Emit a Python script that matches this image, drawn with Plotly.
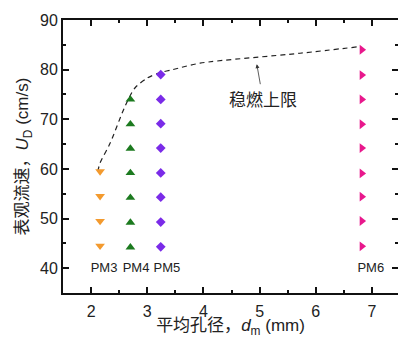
import plotly.graph_objects as go

# Data
pm3_x = [2.16] * 4
pm3_y = [44.5, 49.5, 54.5, 59.5]
pm4_x = [2.70] * 7
pm4_y = [44.2, 49.2, 54.2, 59.2, 64.1, 69.0, 74.0]
pm5_x = [3.24] * 8
pm5_y = [44.3, 49.3, 54.3, 59.2, 64.2, 69.1, 74.0, 79.0]
pm6_x = [6.82] * 9
pm6_y = [44.4, 49.5, 54.4, 59.1, 64.2, 69.0, 74.0, 78.9, 84.0]

limit_x = [2.12, 2.16, 2.34, 2.60, 2.78, 3.00, 3.20, 3.45, 3.94, 5.72, 6.75]
limit_y = [59.5, 61.2, 65.2, 72.5, 76.3, 78.3, 79.3, 80.0, 81.3, 83.3, 84.6]

label_names = ["PM3", "PM4", "PM5", "PM6"]
label_x = [2.23, 2.80, 3.35, 6.98]
label_y = [39.8, 39.8, 39.8, 39.8]

x_ticks = [2, 3, 4, 5, 6, 7]
y_ticks = [40, 50, 60, 70, 80, 90]

LAT = "Liberation Sans, Arial, Noto Sans CJK SC"
CJK = "Noto Sans CJK SC, Liberation Sans"

fig = go.Figure()
fig.add_trace(go.Scatter(x=limit_x, y=limit_y, mode="lines",
                         line=dict(color="#222", width=1.2, dash="5px,4px", shape="spline", smoothing=0.8),
                         hoverinfo="skip", showlegend=False))
fig.add_trace(go.Scatter(x=pm3_x, y=pm3_y, mode="markers",
                         marker=dict(symbol="triangle-down", size=8.5, color="#F39A2E"), showlegend=False))
fig.add_trace(go.Scatter(x=pm4_x, y=pm4_y, mode="markers",
                         marker=dict(symbol="triangle-up", size=8.5, color="#1C7A1F"), showlegend=False))
fig.add_trace(go.Scatter(x=pm5_x, y=pm5_y, mode="markers",
                         marker=dict(symbol="diamond", size=7.5, color="#7A2BE8"), showlegend=False))
fig.add_trace(go.Scatter(x=pm6_x, y=pm6_y, mode="markers",
                         marker=dict(symbol="triangle-right", size=8.5, color="#E8188C"), showlegend=False))
fig.add_trace(go.Scatter(x=label_x, y=label_y, mode="text", text=label_names,
                         textfont=dict(family=LAT, size=13, color="#222"), showlegend=False))

fig.add_annotation(x=4.95, y=81.1, ax=6, ay=34, text="稳燃上限",
                   font=dict(family=CJK, size=17, color="#222"),
                   showarrow=True, arrowhead=2, arrowsize=1, arrowwidth=0.8, arrowcolor="#333")

fig.update_layout(
    width=398, height=338,
    margin=dict(l=63, r=0, t=20, b=45),
    paper_bgcolor="white", plot_bgcolor="white",
    xaxis=dict(range=[1.5, 7.464], tickvals=x_ticks, ticks="inside", ticklen=6, tickwidth=2,
               tickcolor="#111", showline=True, linewidth=2, linecolor="#111", mirror="ticks",
               showgrid=False, zeroline=False, ticklabelstandoff=3, automargin=False,
               minor=dict(dtick=0.5, tick0=0, ticks="inside", ticklen=3, tickwidth=1.5, tickcolor="#111"),
               tickfont=dict(family=LAT, size=16, color="#222"),
               title=dict(text="平均孔径，<i>d</i><sub>m</sub> (mm)", font=dict(family=LAT, size=17, color="#222"),
                          standoff=9)),
    yaxis=dict(range=[35, 90], tickvals=y_ticks, ticks="inside", ticklen=6, tickwidth=2,
               tickcolor="#111", showline=True, linewidth=2, linecolor="#111", mirror="ticks",
               automargin=False, showgrid=False, zeroline=False,
               minor=dict(dtick=5, tick0=0, ticks="inside", ticklen=3, tickwidth=1.5, tickcolor="#111"),
               tickfont=dict(family=LAT, size=16, color="#222"),
               title=dict(text="表观流速，<i>U</i><sub>D</sub> (cm/s)", font=dict(family=LAT, size=17, color="#222"),
                          standoff=7)),
)

fig.write_html("out.html")
